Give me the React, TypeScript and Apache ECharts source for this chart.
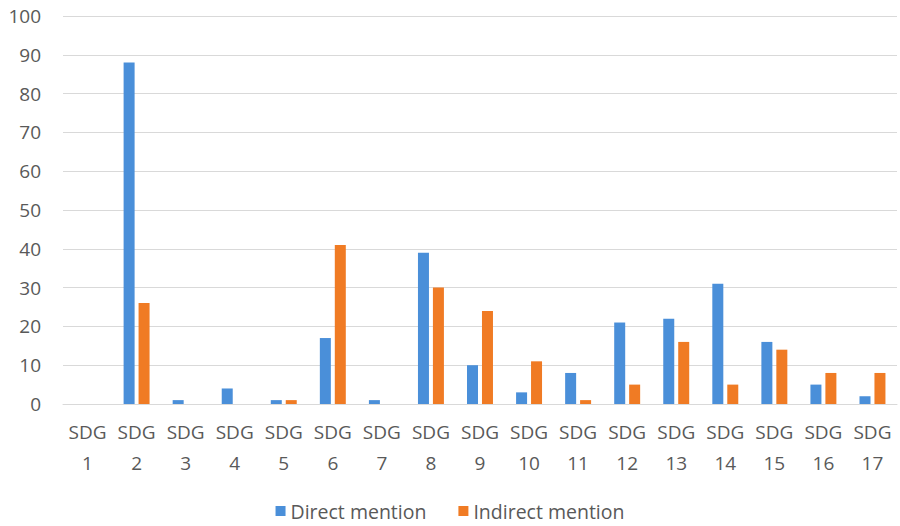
import React, { useEffect, useRef } from "react";
import * as echarts from "echarts";

const categories = ["SDG\n1","SDG\n2","SDG\n3","SDG\n4","SDG\n5","SDG\n6","SDG\n7","SDG\n8","SDG\n9","SDG\n10","SDG\n11","SDG\n12","SDG\n13","SDG\n14","SDG\n15","SDG\n16","SDG\n17"];
const directMention = [0, 88, 1, 4, 1, 17, 1, 39, 10, 3, 8, 21, 22, 31, 16, 5, 2];
const indirectMention = [0, 26, 0, 0, 1, 41, 0, 30, 24, 11, 1, 5, 16, 5, 14, 8, 8];

const FONT = "'Open Sans', Lato, sans-serif";

export default function App() {
  const ref = useRef<HTMLDivElement>(null);
  useEffect(() => {
    if (!ref.current) return;
    const chart = echarts.init(ref.current, null, { renderer: "svg" });
    chart.setOption({
      animation: false,
      backgroundColor: "#ffffff",
      textStyle: { fontFamily: FONT },
      grid: { left: 63, right: 3, top: 16, bottom: 122, containLabel: false },
      legend: {
        bottom: 0,
        left: "center",
        itemWidth: 10,
        itemHeight: 10,
        itemGap: 32,
        icon: "rect",
        textStyle: { fontSize: 19.5, color: "#595959", fontFamily: FONT },
        data: ["Direct mention", "Indirect mention"],
      },
      xAxis: {
        type: "category",
        data: categories,
        axisLine: { show: true, lineStyle: { color: "#d9d9d9", width: 1 } },
        axisTick: { show: false },
        axisLabel: {
          color: "#595959",
          fontSize: 19,
          lineHeight: 31,
          margin: 12,
          interval: 0,
          fontFamily: FONT,
        },
      },
      yAxis: {
        type: "value",
        min: 0,
        max: 100,
        interval: 10,
        axisLine: { show: false },
        axisTick: { show: false },
        axisLabel: { color: "#595959", fontSize: 19, margin: 22, fontFamily: FONT },
        splitLine: { lineStyle: { color: "#d9d9d9", width: 1 } },
      },
      series: [
        {
          name: "Direct mention",
          type: "bar",
          data: directMention,
          barWidth: 11,
          barGap: "36%",
          itemStyle: { color: "#4a8fd9" },
        },
        {
          name: "Indirect mention",
          type: "bar",
          data: indirectMention,
          barWidth: 11,
          itemStyle: { color: "#f07b24" },
        },
      ],
    });
    return () => chart.dispose();
  }, []);
  return (
    <div
      ref={ref}
      style={{ position: "fixed", left: 0, top: 0, width: 900, height: 526 }}
    />
  );
}
